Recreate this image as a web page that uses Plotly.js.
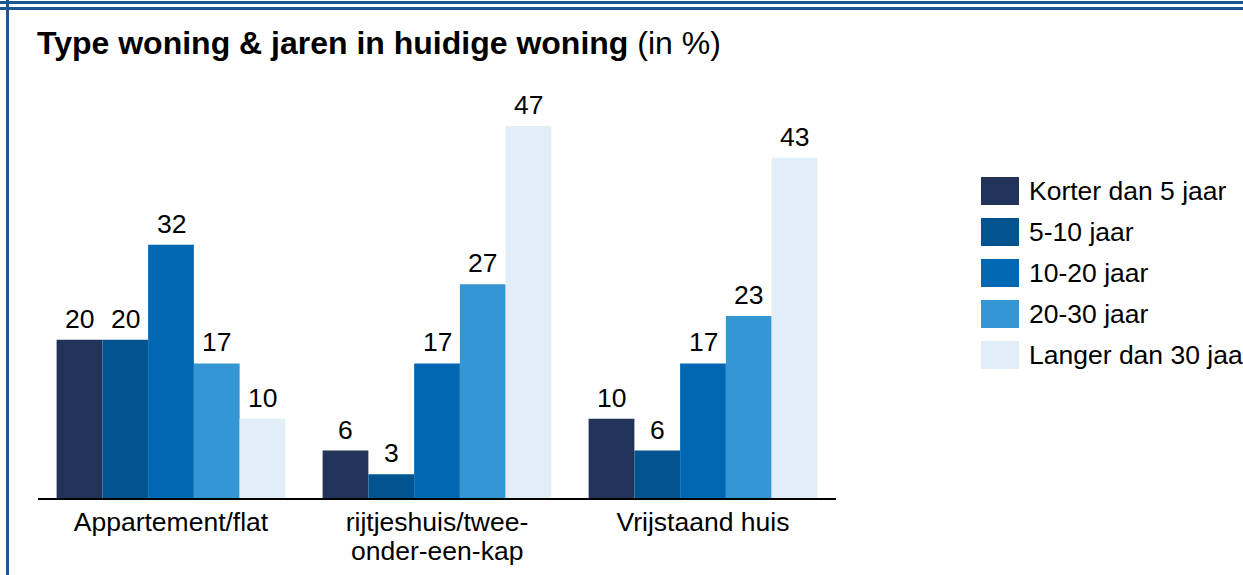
<!DOCTYPE html>
<html><head><meta charset="utf-8">
<script src="https://cdn.plot.ly/plotly-3.0.1.min.js"></script>
<style>
html,body{margin:0;padding:0;background:#fff;}
#wrap{position:relative;width:1243px;height:575px;overflow:hidden;}
#l1{position:absolute;left:0;top:1px;width:1243px;height:3px;background:#1b5690;}
#l2{position:absolute;left:0;top:7px;width:1243px;height:3px;background:#1b5690;}
#lv{position:absolute;left:6px;top:0;width:3px;height:575px;background:#1b5690;}
#chart{position:absolute;left:0;top:0;width:1243px;height:575px;}
</style></head>
<body><div id="wrap"><div id="chart"></div><div id="l1"></div><div id="l2"></div><div id="lv"></div></div>
<script>
const categories = ["Appartement/flat", "rijtjeshuis/twee-<br>onder-een-kap", "Vrijstaand huis"];
const seriesNames = ["Korter dan 5 jaar", "5-10 jaar", "10-20 jaar", "20-30 jaar", "Langer dan 30 jaar"];
const seriesColors = ["#22335a", "#01548f", "#0067b3", "#3596d4", "#e1eef8"];
const korter5 = [20, 6, 10];
const j5_10 = [20, 3, 6];
const j10_20 = [32, 17, 17];
const j20_30 = [17, 27, 23];
const langer30 = [10, 47, 43];
const seriesValues = [korter5, j5_10, j10_20, j20_30, langer30];

const FONT = 'Liberation Sans, Arial, sans-serif';
const bargap = 0.14;
const L = 38, R = 836, T = 100, B = 498, W = 1243, H = 575;
const yMax = 50.3;

const traces = seriesNames.map((n, i) => ({
  type: 'bar', name: n, x: categories, y: seriesValues[i],
  marker: {color: seriesColors[i], line: {width: 0}},
  showlegend: false, hoverinfo: 'none'
}));

const annotations = [];
const barW = (1 - bargap) / seriesNames.length;
seriesValues.forEach((vals, i) => {
  vals.forEach((v, c) => {
    annotations.push({
      x: c + (i - (seriesNames.length - 1) / 2) * barW, y: v, xref: 'x', yref: 'y',
      text: String(v), showarrow: false, yanchor: 'bottom', yshift: 4,
      font: {family: FONT, size: 26.5, color: '#000'}
    });
  });
});

// tick labels: first line as tick text, further lines as tighter-spaced annotations
const tickFirst = categories.map(c => c.split('<br>')[0]);
categories.forEach((c, ci) => {
  c.split('<br>').slice(1).forEach((line, li) => {
    annotations.push({x: categories[ci], xref: 'x', yref: 'paper', y: 0, yanchor: 'top',
      yshift: -(36 + li * 28), showarrow: false, text: line,
      font: {family: FONT, size: 26.5, color: '#000'}});
  });
});

// Legend (custom large swatches)
const px = x => (x - L) / (R - L);
const py = y => (B - y) / (B - T);
const shapes = [];
seriesNames.forEach((n, i) => {
  const top = 177 + i * 41;
  shapes.push({type: 'rect', xref: 'paper', yref: 'paper',
    x0: px(981), x1: px(1019), y0: py(top + 28), y1: py(top),
    fillcolor: seriesColors[i], line: {width: 0}});
  annotations.push({xref: 'paper', yref: 'paper', x: px(1027), y: py(top + 14),
    xanchor: 'left', yanchor: 'middle', showarrow: false, text: n,
    font: {family: FONT, size: 26.5, color: '#000'}});
});

const layout = {
  width: W, height: H,
  margin: {l: L, r: W - R, t: T, b: H - B, pad: 0},
  paper_bgcolor: 'rgba(0,0,0,0)', plot_bgcolor: 'rgba(0,0,0,0)',
  barmode: 'group', bargap: bargap, bargroupgap: 0,
  title: {text: '<b>Type woning & jaren in huidige woning</b> (in %)',
    x: 37 / W, xanchor: 'left', xref: 'container', y: 1 - 43 / H, yanchor: 'middle', yref: 'container',
    font: {family: FONT, size: 32, color: '#000'}},
  xaxis: {type: 'category', showline: true, linecolor: '#000', linewidth: 1.5,
    ticks: '', showgrid: false, zeroline: false,
    tickvals: categories, ticktext: tickFirst,
    tickfont: {family: FONT, size: 26.5, color: '#000'}},
  yaxis: {range: [0, yMax], visible: false, showgrid: false, zeroline: false},
  annotations: annotations, shapes: shapes,
  showlegend: false
};
Plotly.newPlot('chart', traces, layout, {displayModeBar: false, staticPlot: true});
</script></body></html>
